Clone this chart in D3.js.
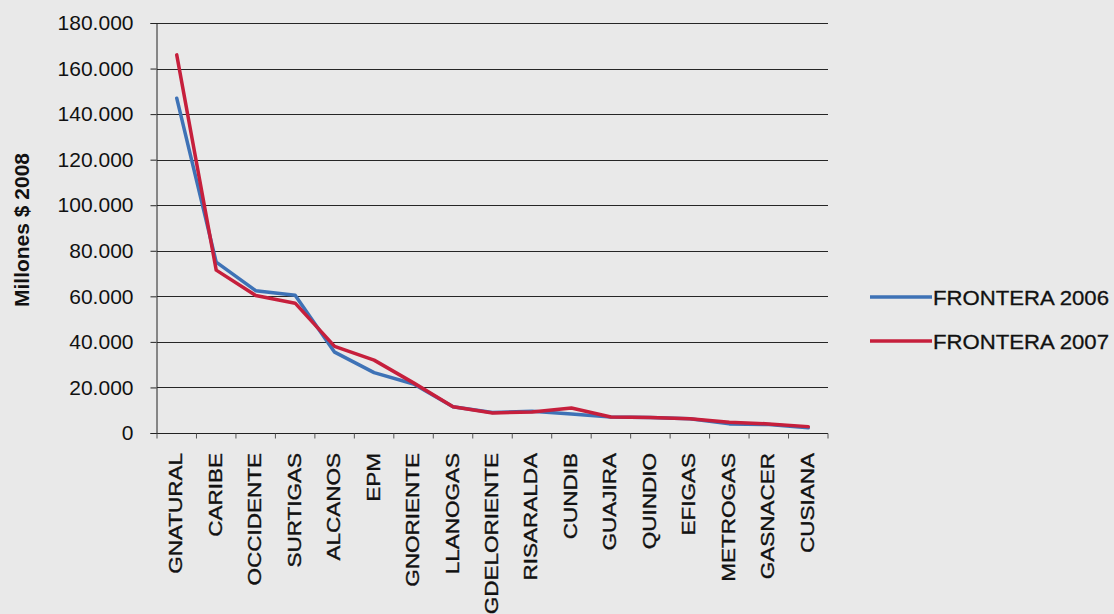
<!DOCTYPE html>
<html>
<head>
<meta charset="utf-8">
<script src="https://cdn.jsdelivr.net/npm/d3@7"></script>
<style>
  html, body { margin: 0; padding: 0; background: #e9e9e9; }
  svg { display: block; font-family: "Liberation Sans", Arial, sans-serif; }
</style>
</head>
<body>
<svg id="chart" width="1114" height="614"></svg>
<script>
// Distribuidoras, ordered by value
const categories = ["GNATURAL", "CARIBE", "OCCIDENTE", "SURTIGAS", "ALCANOS", "EPM",
  "GNORIENTE", "LLANOGAS", "GDELORIENTE", "RISARALDA", "CUNDIB", "GUAJIRA",
  "QUINDIO", "EFIGAS", "METROGAS", "GASNACER", "CUSIANA"];

// Millones $ 2008
const frontera2006 = [147000, 75000, 62500, 60500, 35500, 26500, 21500, 11500, 9000,
  9500, 8300, 7000, 6800, 6300, 4000, 3700, 2300];
const frontera2007 = [166000, 71500, 60400, 57000, 38000, 32000, 22000, 11500, 8800,
  9200, 11000, 7000, 6800, 6300, 4700, 4000, 2800];

const yTicks = [0, 20000, 40000, 60000, 80000, 100000, 120000, 140000, 160000, 180000];

const seriesNames = ["FRONTERA 2006", "FRONTERA 2007"];
const seriesColors = ["#3e72b6", "#c61f3c"];

const svg = d3.select("#chart");
const plotLeft = 157, plotRight = 828, plotTop = 23, plotBottom = 433;

const x = d3.scaleBand().domain(categories).range([plotLeft, plotRight]).padding(0);
const y = d3.scaleLinear().domain([0, 180000]).range([plotBottom, plotTop]);

const loc = d3.formatLocale({ decimal: ",", thousands: ".", grouping: [3], currency: ["$", ""] });
const fmt = loc.format(",d");

// Horizontal gridlines
svg.append("g").selectAll("line").data(yTicks).join("line")
  .attr("x1", plotLeft).attr("x2", plotRight)
  .attr("y1", d => Math.round(y(d)) + 0.5).attr("y2", d => Math.round(y(d)) + 0.5)
  .attr("stroke", "#262626").attr("stroke-width", 1);

// Y axis
const yAxis = svg.append("g")
  .attr("transform", `translate(${plotLeft - 0.5},0)`)
  .call(d3.axisLeft(y).tickValues(yTicks).tickFormat(fmt).tickSize(6).tickPadding(17));
yAxis.select(".domain").attr("stroke", "#222");
yAxis.selectAll(".tick line").attr("stroke", "#222");
yAxis.selectAll(".tick text")
  .attr("font-size", 21).attr("fill", "#111")
  .attr("font-family", "Liberation Sans, Arial, sans-serif");

// Y axis title
svg.append("text")
  .attr("transform", `translate(29,${(plotTop + plotBottom) / 2 + 2}) rotate(-90)`)
  .attr("text-anchor", "middle")
  .attr("font-size", 21).attr("font-weight", "bold").attr("fill", "#111")
  .text("Millones $ 2008");

// X axis with ticks between categories
const xAxisG = svg.append("g").attr("transform", `translate(0,${plotBottom + 0.5})`);
xAxisG.append("line").attr("x1", plotLeft).attr("x2", plotRight).attr("stroke", "#222");
const boundaries = categories.map(c => x(c)).concat([plotRight]);
xAxisG.selectAll("line.tk").data(boundaries).join("line").attr("class", "tk")
  .attr("x1", d => d).attr("x2", d => d).attr("y1", 0).attr("y2", 5)
  .attr("stroke", "#555");

// Rotated category labels
svg.append("g").selectAll("text").data(categories).join("text")
  .attr("transform", d => `translate(${x(d) + x.bandwidth() / 2 - 1},453) rotate(-90) scale(1.25,1)`)
  .attr("text-anchor", "end")
  .attr("dy", "0.36em")
  .attr("font-size", 18).attr("fill", "#111")
  .attr("stroke", "#111").attr("stroke-width", 0.35)
  .text(d => d);

// Series lines
const series = [frontera2006, frontera2007];
const line = d3.line()
  .x((d, i) => x(categories[i]) + x.bandwidth() / 2)
  .y(d => y(d));

svg.append("g").selectAll("path").data(series).join("path")
  .attr("d", d => line(d))
  .attr("fill", "none")
  .attr("stroke", (d, i) => seriesColors[i])
  .attr("stroke-width", 3.5)
  .attr("stroke-linejoin", "round")
  .attr("stroke-linecap", "round");

// Legend
const legend = svg.append("g");
const legendY = [297, 341];
seriesNames.forEach((name, i) => {
  legend.append("line")
    .attr("x1", 870).attr("x2", 932)
    .attr("y1", legendY[i]).attr("y2", legendY[i])
    .attr("stroke", seriesColors[i]).attr("stroke-width", 3.5);
  legend.append("text")
    .attr("x", 933).attr("y", legendY[i]).attr("dy", "0.36em")
    .attr("font-size", 21).attr("fill", "#111")
    .attr("stroke", "#111").attr("stroke-width", 0.3)
    .attr("textLength", 176).attr("lengthAdjust", "spacingAndGlyphs")
    .text(name);
});
</script>
</body>
</html>
